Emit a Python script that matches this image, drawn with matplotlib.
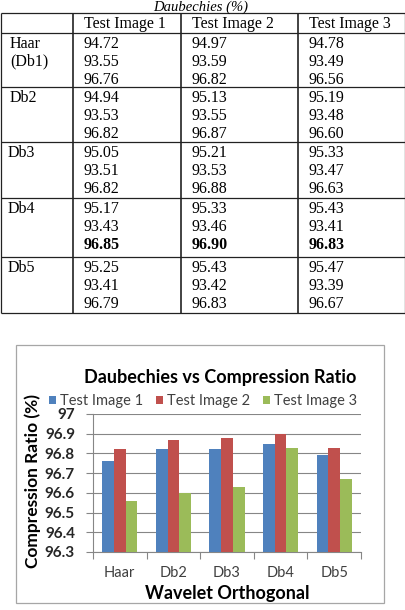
import numpy as np
import matplotlib
matplotlib.use("Agg")
import matplotlib.pyplot as plt
from matplotlib.ticker import MultipleLocator, FuncFormatter
from matplotlib.patches import Rectangle

# ---------------- data ----------------
table_caption = "Daubechies (%)"
col_headers = ["Test Image 1", "Test Image 2", "Test Image 3"]
row_labels = ["Haar\n(Db1)", "Db2", "Db3", "Db4", "Db5"]
test_image_1 = [[94.72, 93.55, 96.76], [94.94, 93.53, 96.82], [95.05, 93.51, 96.82],
                [95.17, 93.43, 96.85], [95.25, 93.41, 96.79]]
test_image_2 = [[94.97, 93.59, 96.82], [95.13, 93.55, 96.87], [95.21, 93.53, 96.88],
                [95.33, 93.46, 96.90], [95.43, 93.42, 96.83]]
test_image_3 = [[94.78, 93.49, 96.56], [95.19, 93.48, 96.60], [95.33, 93.47, 96.63],
                [95.43, 93.41, 96.83], [95.47, 93.39, 96.67]]
bold_row = 3  # Db4 compression ratio row highlighted

chart_title = "Daubechies vs Compression Ratio"
categories = ["Haar", "Db2", "Db3", "Db4", "Db5"]
series_names = ["Test Image 1", "Test Image 2", "Test Image 3"]
cr_1 = [r[2] for r in test_image_1]
cr_2 = [r[2] for r in test_image_2]
cr_3 = [r[2] for r in test_image_3]
x_label = "Wavelet Orthogonal"
y_label = "Compression Ratio (%)"

# ---------------- figure ----------------
W, H = 406, 610
fig = plt.figure(figsize=(W / 100, H / 100), dpi=100)
bg = fig.add_axes([0, 0, 1, 1])
bg.set_xlim(0, W)
bg.set_ylim(H, 0)
bg.axis("off")

serif = "Liberation Serif"
tfs = 11.5

# caption
bg.text(201, 10.5, table_caption, family=serif, style="italic", fontsize=10.5,
        ha="center", va="baseline")

# table grid
row_lines = [13, 32.5, 87, 142, 198, 257, 313]
col_lines = [0.5, 73, 181, 298, 405.5]
lw = 0.9
for y in row_lines:
    bg.plot([col_lines[0], col_lines[-1]], [y, y], color="#222222", lw=lw,
            solid_capstyle="butt")
for x in col_lines:
    bg.plot([x, x], [row_lines[0], row_lines[-1]], color="#222222",
            lw=lw if x in (col_lines[0], col_lines[-1]) else 1.2,
            solid_capstyle="butt")

# header
for j, h in enumerate(col_headers):
    bg.text(col_lines[j + 1] + 11, (row_lines[0] + row_lines[1]) / 2 + 1, h,
            family=serif, fontsize=tfs, ha="left", va="center")

cols = [test_image_1, test_image_2, test_image_3]
for i, lab in enumerate(row_labels):
    top = row_lines[i + 1]
    lab_x = 10 if i < 2 else 8
    for k, part in enumerate(lab.split("\n")):
        bg.text(lab_x, top + 11 + 18 * k, part, family=serif, fontsize=tfs,
                ha="left", va="center")
    for j, col in enumerate(cols):
        for k, v in enumerate(col[i]):
            bold = (i == bold_row and k == 2)
            bg.text(col_lines[j + 1] + 11, top + 11 + 18 * k, f"{v:.2f}",
                    family=serif, fontsize=tfs, ha="left", va="center",
                    weight="bold" if bold else "normal")

# chart frame
bg.add_patch(Rectangle((16, 345), 368, 258, fill=False, ec="#A6A6A6", lw=0.9))

# ---------------- bar chart ----------------
sans = "Lato"
pl, pr, pt, pb = 93, 361, 414, 552
ax = fig.add_axes([pl / W, 1 - pb / H, (pr - pl) / W, (pb - pt) / H])
colors = ["#4F81BD", "#C0504D", "#9BBB59"]
x = np.arange(len(categories))
bw = 0.22
for s, (vals, c) in enumerate(zip([cr_1, cr_2, cr_3], colors)):
    ax.bar(x + (s - 1) * bw, vals, bw, color=c, label=series_names[s], zorder=3)

ax.set_xlim(-0.5, len(categories) - 0.5)
ax.set_ylim(96.3, 97.0)
ax.yaxis.set_major_locator(MultipleLocator(0.1))
ax.yaxis.set_major_formatter(FuncFormatter(lambda v, p: f"{v:g}"))
ax.grid(axis="y", color="#868686", lw=0.8, zorder=0)
for sp in ["top", "right"]:
    ax.spines[sp].set_visible(False)
for sp in ["left", "bottom"]:
    ax.spines[sp].set_color("#868686")
    ax.spines[sp].set_linewidth(0.8)
ax.set_xticks(x)
ax.set_xticklabels(categories, family=sans, fontsize=10.5, color="#404040")
ax.set_xticks(np.arange(-0.5, len(categories)), minor=True)
ax.tick_params(axis="x", which="major", length=0, pad=10)
ax.tick_params(axis="x", which="minor", length=5, color="#868686", width=0.8)
ax.tick_params(axis="y", length=5, color="#868686", width=0.8, pad=8)
for t in ax.get_yticklabels():
    t.set_family(sans)
    t.set_fontsize(11)
    t.set_weight("bold")
    t.set_color("#262626")

fig.text(220 / W, 1 - 377 / H, chart_title, family=sans, weight="bold",
         fontsize=13, ha="center", va="center", color="#000000")
fig.text(227 / W, 1 - 593 / H, x_label, family=sans, weight="bold",
         fontsize=13, ha="center", va="center", color="#000000")
fig.text(33 / W, 1 - 481 / H, y_label, family=sans, weight="bold",
         fontsize=12.5, ha="center", va="center", rotation=90, color="#000000")

leg = fig.legend(loc="center", bbox_to_anchor=(203 / W, 1 - 401 / H), ncol=3,
                 frameon=False, handlelength=0.5, handleheight=0.5,
                 handletextpad=0.25, columnspacing=0.9,
                 prop={"family": sans, "size": 10.5})
for t in leg.get_texts():
    t.set_color("#404040")

fig.savefig("out.png", dpi=100)
